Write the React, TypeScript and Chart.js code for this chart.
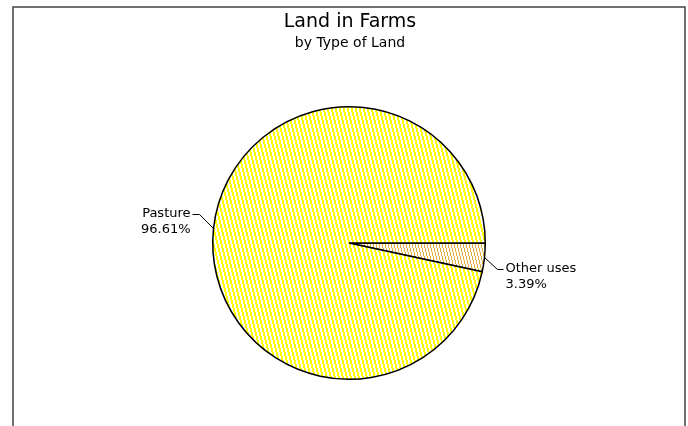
import React, { useEffect, useRef } from "react";
import { Chart, registerables } from "chart.js";

Chart.register(...registerables);

const categories = ["Other uses", "Pasture"];
const shares = [3.39, 96.61];
const shareLabels = ["3.39%", "96.61%"];
const titleText = "Land in Farms";
const subtitleText = "by Type of Land";

function makePattern(color: string, period: number, width: number, step: number): CanvasPattern | string {
  const c = document.createElement("canvas");
  const h = period * step;
  c.width = period;
  c.height = h;
  const ctx = c.getContext("2d");
  if (!ctx) return color;
  ctx.fillStyle = "#ffffff";
  ctx.fillRect(0, 0, period, h);
  ctx.fillStyle = color;
  for (let y = 0; y < h; y++) {
    const off = Math.floor(y / step);
    for (let k = 0; k < width; k++) {
      ctx.fillRect((off + k) % period, y, 1, 1);
    }
  }
  const p = ctx.createPattern(c, "repeat");
  return p || color;
}

const decorPlugin = {
  id: "decor",
  beforeDraw(chart: any) {
    const ctx = chart.ctx;
    ctx.save();
    ctx.strokeStyle = "#444444";
    ctx.lineWidth = 1.5;
    ctx.beginPath();
    ctx.moveTo(13, 426);
    ctx.lineTo(13, 7);
    ctx.lineTo(685, 7);
    ctx.lineTo(685, 426);
    ctx.stroke();
    ctx.fillStyle = "#000";
    ctx.textAlign = "center";
    ctx.textBaseline = "middle";
    ctx.font = "19px 'DejaVu Sans'";
    ctx.fillText(titleText, 350, 22);
    ctx.font = "14px 'DejaVu Sans'";
    ctx.fillText(subtitleText, 350, 43);
    ctx.restore();
  },
  afterDraw(chart: any) {
    const ctx = chart.ctx;
    const meta = chart.getDatasetMeta(0);
    ctx.save();
    ctx.strokeStyle = "#000";
    ctx.lineWidth = 1;
    ctx.fillStyle = "#000";
    ctx.font = "13px 'DejaVu Sans'";
    ctx.textBaseline = "middle";
    meta.data.forEach((arc: any, i: number) => {
      const p = arc.getProps(["x", "y", "startAngle", "endAngle", "outerRadius"], true);
      const mid = (p.startAngle + p.endAngle) / 2;
      const ex = p.x + Math.cos(mid) * p.outerRadius;
      const ey = p.y + Math.sin(mid) * p.outerRadius;
      const right = Math.cos(mid) >= 0;
      const dx = right ? 13 : -14;
      const dy = Math.sin(mid) >= 0 ? 12 : -14;
      const bx = ex + dx;
      const by = ey + dy;
      const hx = bx + (right ? 6 : -7);
      ctx.beginPath();
      ctx.moveTo(ex, ey);
      ctx.lineTo(bx, by);
      ctx.lineTo(hx, by);
      ctx.stroke();
      ctx.textAlign = right ? "left" : "right";
      const tx = hx + (right ? 2 : -2);
      ctx.fillText(categories[i], tx, by - 1);
      ctx.fillText(shareLabels[i], tx, by + 15);
    });
    ctx.restore();
  },
};

export default function App() {
  const ref = useRef<HTMLCanvasElement | null>(null);
  useEffect(() => {
    if (!ref.current) return;
    const pasturePat = makePattern("#ffff00", 4, 2, 4);
    const otherPat = makePattern("#e6b040", 3, 1, 4);
    const chart = new Chart(ref.current, {
      type: "pie",
      data: {
        labels: categories,
        datasets: [
          {
            data: shares,
            backgroundColor: [otherPat as any, pasturePat as any],
            borderColor: "#000000",
            borderWidth: 1.5,
          },
        ],
      },
      options: {
        animation: false,
        responsive: false,
        rotation: 90,
        layout: { padding: { top: 106, bottom: 46, left: 212, right: 202 } },
        plugins: {
          legend: { display: false },
          tooltip: { enabled: false },
          title: { display: false },
        },
      },
      plugins: [decorPlugin],
    });
    return () => chart.destroy();
  }, []);
  return (
    <div style={{ position: "fixed", left: 0, top: 0, width: 688, height: 426, background: "#fff" }}>
      <canvas ref={ref} width={688} height={426} style={{ width: 688, height: 426 }} />
    </div>
  );
}
